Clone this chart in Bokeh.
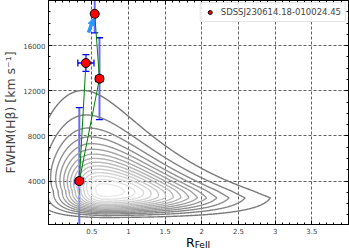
import numpy as np
from bokeh.plotting import figure
from bokeh.layouts import column
from bokeh.models import (ColumnDataSource, Whisker, TeeHead, Arrow, NormalHead, Div,
                          LinearAxis, FixedTicker, Range1d, Legend, LegendItem,
                          CustomJSTickFormatter)
from bokeh.embed import file_html
from bokeh.resources import INLINE

# ---------------- data ----------------
obj_name = "SDSSJ230614.18-010024.45"
r_feii = [0.33, 0.42, 0.605, 0.54]
r_feii_err = [0.06, 0.11, 0.05, 0.0]
fwhm_hb = [4000, 14460, 13070, 18820]
fwhm_hb_err = [6500, 740, 3630, 1690]
path_order = [1, 0, 2, 3]
arrow_r = [0.455, 0.527]
arrow_fwhm = [17150, 18450]

x_major = [0.5, 1.0, 1.5, 2.0, 2.5, 3.0, 3.5]
y_major = [4000, 8000, 12000, 16000]

# quasar main-sequence population (density model parameters)
pop_logfwhm_peak = 3.50
pop_logfwhm_sig_lo = 0.25
pop_logfwhm_sig_hi = 0.237
pop_r_peak = 0.68
pop_r_slope = 0.52
pop_r_sig_left = 0.38
pop_r_sig_right = 0.82
pop_r_sig_decay = 1.3
pop_levels = [0.05, 0.114, 0.179, 0.243, 0.307, 0.371, 0.436, 0.5,
              0.564, 0.629, 0.693, 0.757, 0.821, 0.886, 0.95]

# ---------------- figure ----------------
p = figure(width=349, height=236, x_range=Range1d(-0.09, 4.0), y_range=Range1d(150, 20000),
           min_border_left=48, min_border_right=1, min_border_top=0, min_border_bottom=12,
           output_backend="svg", toolbar_location=None)
p.background_fill_color = "white"
p.border_fill_color = "white"
p.outline_line_color = "black"
p.outline_line_width = 1

# population contours
gx = np.linspace(-0.4, 4.4, 481)
gy = np.linspace(100, 23000, 701)
XX, YY = np.meshgrid(gx, gy)
du = np.log10(YY) - pop_logfwhm_peak
fu = np.exp(-0.5 * (du / np.where(du < 0, pop_logfwhm_sig_lo, pop_logfwhm_sig_hi)) ** 2)
cx = pop_r_peak - pop_r_slope * np.clip(du, 0, None)
sr = pop_r_sig_right * np.exp(-pop_r_sig_decay * np.clip(du, -0.1, None))
dx = XX - cx
gxv = np.exp(-0.5 * (dx / np.where(dx < 0, pop_r_sig_left, sr)) ** 2)
Z = fu * gxv
n = len(pop_levels)
cols = []
for i in range(n):
    g = int(round(0x78 + (0xea - 0x78) * i / (n - 1)))
    cols.append("#%02x%02x%02x" % (g, g, g))
p.contour(x=gx, y=gy, z=Z, levels=pop_levels, line_color=cols, line_width=1.4)

# error bars
src = ColumnDataSource(dict(
    x=r_feii, y=fwhm_hb,
    ylo=[v - e for v, e in zip(fwhm_hb, fwhm_hb_err)],
    yhi=[v + e for v, e in zip(fwhm_hb, fwhm_hb_err)],
))
xe = [(x, y, e) for x, y, e in zip(r_feii, fwhm_hb, r_feii_err) if e > 0]
src_x = ColumnDataSource(dict(
    y=[t[1] for t in xe],
    xlo=[t[0] - t[2] for t in xe],
    xhi=[t[0] + t[2] for t in xe],
))
wy = Whisker(source=src, base="x", lower="ylo", upper="yhi", dimension="height",
             line_color="#5050ff", line_width=2, line_alpha=0.85,
             upper_head=TeeHead(size=7, line_color="blue", line_width=1.3),
             lower_head=TeeHead(size=7, line_color="blue", line_width=1.3))
wx = Whisker(source=src_x, base="y", lower="xlo", upper="xhi", dimension="width",
             line_color="blue", line_width=1.5,
             upper_head=TeeHead(size=7, line_color="blue", line_width=1.3),
             lower_head=TeeHead(size=7, line_color="blue", line_width=1.3))
p.add_layout(wy)
p.add_layout(wx)

# connecting path
p.line([r_feii[i] for i in path_order], [fwhm_hb[i] for i in path_order],
       line_color="green", line_width=1)

# arrow
p.add_layout(Arrow(x_start=arrow_r[0], y_start=arrow_fwhm[0], x_end=arrow_r[1], y_end=arrow_fwhm[1],
                   line_color="#2b95ff", line_width=3.5,
                   end=NormalHead(size=7, fill_color="#2b95ff", line_color="#2b95ff")))

pts = p.scatter(r_feii, fwhm_hb, marker="circle", size=9, fill_color="red", line_color="black",
                line_width=1)

legend = Legend(items=[LegendItem(label=obj_name, renderers=[pts])], location="top_right")
legend.label_text_font = "DejaVu Sans"
legend.label_text_font_size = "8.5px"
legend.glyph_width = 10
legend.glyph_height = 10
legend.padding = 4
legend.margin = 2
legend.spacing = 0
legend.label_standoff = 6
legend.label_height = 10
legend.border_line_color = "#cccccc"
legend.border_line_width = 1
legend.background_fill_alpha = 0.85
p.add_layout(legend)

# axes
for ax in (p.xaxis[0], p.yaxis[0]):
    ax.major_tick_in = 4
    ax.major_tick_out = 0
    ax.minor_tick_in = 2
    ax.minor_tick_out = 0
    ax.major_label_text_font = "DejaVu Sans"
    ax.major_label_text_font_size = "7px"
    ax.major_label_standoff = 3
    ax.axis_line_color = "black"

x_minor = [round(0.1 * k, 1) for k in range(0, 41)]
y_minor = [1000 * k for k in range(1, 20)]
p.xaxis[0].ticker = FixedTicker(ticks=x_major, minor_ticks=x_minor)
p.yaxis[0].ticker = FixedTicker(ticks=y_major, minor_ticks=y_minor)
p.xgrid.ticker = FixedTicker(ticks=x_major)
p.ygrid.ticker = FixedTicker(ticks=y_major)
for g in (p.xgrid[0], p.ygrid[0]):
    g.grid_line_color = "#3a3a3a"
    g.grid_line_dash = "3 2"
    g.grid_line_width = 1
    g.grid_line_alpha = 0.8

p.yaxis[0].axis_label = "FWHM(Hβ) [km s⁻¹]"
p.yaxis[0].axis_label_text_font = "DejaVu Sans"
p.yaxis[0].axis_label_text_font_style = "normal"
p.yaxis[0].axis_label_text_font_size = "12.5px"
p.yaxis[0].axis_label_standoff = 2

# mirrored ticks on top and right (no labels)
blank = CustomJSTickFormatter(code="return ''")
top = LinearAxis(ticker=FixedTicker(ticks=x_major, minor_ticks=x_minor), formatter=blank)
right = LinearAxis(ticker=FixedTicker(ticks=y_major, minor_ticks=y_minor), formatter=blank)
for ax in (top, right):
    ax.major_tick_in = 4
    ax.major_tick_out = 0
    ax.minor_tick_in = 2
    ax.minor_tick_out = 0
    ax.major_label_standoff = 0
    ax.axis_line_color = "black"
p.add_layout(top, "above")
p.add_layout(right, "right")

# x label R_FeII
xlabel = Div(
    text='<span style="font-family:\'DejaVu Sans\';font-size:12.5px;line-height:14px;">R</span>'
         '<span style="font-family:\'DejaVu Sans\';font-size:9px;line-height:14px;position:relative;top:1px;">FeII</span>',
    width=349, height=15, margin=(0, 0, 0, 0),
    styles={"padding-left": "186px", "line-height": "14px",
            "white-space": "nowrap", "color": "black"})

layout = column(p, xlabel, spacing=0)

html = file_html(layout, INLINE)
html = html.replace("</head>", "<style>html,body{margin:0;padding:0;overflow:hidden;}</style></head>", 1)
open("out.html", "w").write(html)
